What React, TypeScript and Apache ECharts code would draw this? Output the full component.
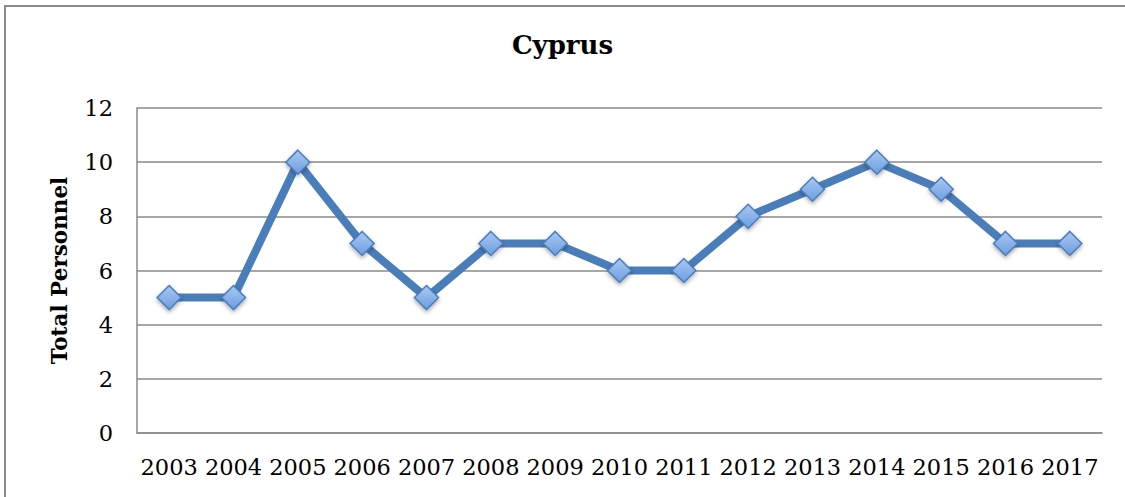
import React, { useEffect, useRef } from "react";
import * as echarts from "echarts";

const years = ["2003","2004","2005","2006","2007","2008","2009","2010","2011","2012","2013","2014","2015","2016","2017"];
const personnel = [5, 5, 10, 7, 5, 7, 7, 6, 6, 8, 9, 10, 9, 7, 7];
const yTicks = { min: 0, max: 12, interval: 2 };

export default function App() {
  const ref = useRef<HTMLDivElement>(null);
  useEffect(() => {
    const chart = echarts.init(ref.current!, null, { renderer: "svg" });
    const font = "'DejaVu Serif', Cambria, serif";
    chart.setOption({
      animation: false,
      backgroundColor: "#ffffff",
      graphic: [
        {
          type: "rect",
          shape: { x: 5, y: 6, width: 1300, height: 700 },
          style: { fill: "none", stroke: "#8a8a8a", lineWidth: 2 },
          silent: true,
          z: 0,
        },
      ],
      title: {
        text: "Cyprus",
        left: "center",
        top: 27,
        textStyle: { fontFamily: font, fontWeight: "bold", fontSize: 26, color: "#000" },
      },
      grid: { left: 137, top: 108, right: 23, bottom: 64, containLabel: false },
      xAxis: {
        type: "category",
        data: years,
        boundaryGap: true,
        axisLine: { show: true, lineStyle: { color: "#8a8a8a", width: 1.5 } },
        axisTick: { show: false },
        axisLabel: { interval: 0, hideOverlap: false, fontFamily: font, fontSize: 22.5, color: "#000", margin: 22 },
      },
      yAxis: {
        type: "value",
        min: yTicks.min,
        max: yTicks.max,
        interval: yTicks.interval,
        name: "Total Personnel",
        nameLocation: "middle",
        nameGap: 67,
        nameTextStyle: { fontFamily: font, fontWeight: "bold", fontSize: 21.5, color: "#000" },
        axisLine: { show: true, lineStyle: { color: "#8a8a8a", width: 1.5 } },
        axisTick: { show: false },
        splitLine: { show: true, lineStyle: { color: "#8a8a8a", width: 1.5 } },
        axisLabel: { fontFamily: font, fontSize: 22.5, color: "#000", margin: 24 },
      },
      series: [
        {
          type: "line",
          data: personnel,
          symbol: "diamond",
          symbolSize: 24,
          lineStyle: { color: "#4a7ebb", width: 8 },
          itemStyle: {
            color: new echarts.graphic.LinearGradient(0, 0, 0, 1, [
              { offset: 0, color: "#a9c8f2" },
              { offset: 1, color: "#6d9de0" },
            ]),
            borderColor: "#4a7ebb",
            borderWidth: 1.5,
            shadowColor: "rgba(0,0,0,0.35)",
            shadowBlur: 4,
            shadowOffsetY: 2,
          },
        },
      ],
    });
    return () => chart.dispose();
  }, []);
  return (
    <div
      ref={ref}
      style={{ position: "fixed", left: 0, top: 0, width: 1125, height: 497 }}
    />
  );
}
